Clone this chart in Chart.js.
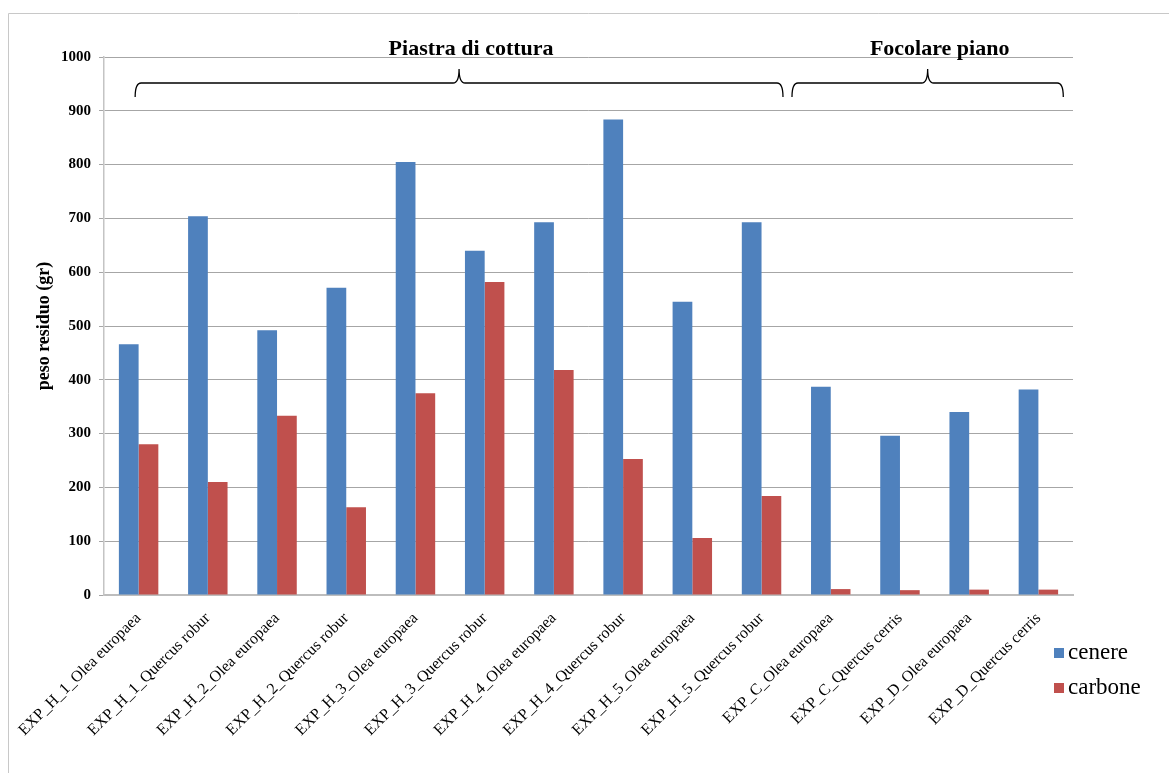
<!DOCTYPE html>
<html>
<head>
<meta charset="utf-8">
<script src="https://cdn.jsdelivr.net/npm/chart.js@4.4.1/dist/chart.umd.min.js"></script>
<style>
  html, body { margin: 0; padding: 0; background: #fff; }
  #wrap { position: relative; width: 1169px; height: 773px; }
</style>
</head>
<body>
<div id="wrap"><canvas id="chart" width="1169" height="773"></canvas></div>
<script>
// Residual weight per experiment: ash (cenere) and charcoal (carbone)
const categories = [
  'EXP_H_1_Olea europaea', 'EXP_H_1_Quercus robur',
  'EXP_H_2_Olea europaea', 'EXP_H_2_Quercus robur',
  'EXP_H_3_Olea europaea', 'EXP_H_3_Quercus robur',
  'EXP_H_4_Olea europaea', 'EXP_H_4_Quercus robur',
  'EXP_H_5_Olea europaea', 'EXP_H_5_Quercus robur',
  'EXP_C_Olea europaea', 'EXP_C_Quercus cerris',
  'EXP_D_Olea europaea', 'EXP_D_Quercus cerris'
];
const cenere  = [466, 704, 492, 571, 805, 640, 693, 884, 545, 693, 387, 296, 340, 382];
const carbone = [280, 210, 333, 163, 375, 582, 418, 253, 106, 184, 11, 9, 10, 10];
const seriesNames = ['cenere', 'carbone'];
const yMin = 0, yMax = 1000, yStep = 100;
const axisTitle = 'peso residuo (gr)';

// Hearth types grouping the experiments (first and last category index)
const groupTitles = ['Piastra di cottura', 'Focolare piano'];
const groupFirst = [0, 10];
const groupLast = [9, 13];

const SERIF = '"Liberation Serif", "Times New Roman", serif';
const colors = ['#4F81BD', '#C0504D'];

// Outer frame, group braces with their titles, and the legend
const decorations = {
  id: 'decorations',
  beforeDraw(chart) {
    const ctx = chart.ctx;
    ctx.save();
    ctx.fillStyle = '#fff';
    ctx.fillRect(0, 0, chart.width, chart.height);
    ctx.strokeStyle = '#c8c8c8';
    ctx.lineWidth = 1;
    ctx.beginPath();
    ctx.moveTo(8.5, chart.height);
    ctx.lineTo(8.5, 13.5);
    ctx.lineTo(chart.width, 13.5);
    ctx.stroke();
    ctx.restore();
  },
  afterDraw(chart) {
    const ctx = chart.ctx;
    const x = chart.scales.x;
    const cw = x.getPixelForValue(1) - x.getPixelForValue(0);
    const startPad = [-0.05, -0.56];
    const endPad = [0.31, 0.36];
    const yLine = 83, yEnd = 97, yTip = 69, r = 6;
    ctx.save();
    ctx.strokeStyle = '#000';
    ctx.lineWidth = 1.3;
    groupTitles.forEach((title, g) => {
      const x1 = x.getPixelForValue(groupFirst[g]) + startPad[g] * cw;
      const x2 = x.getPixelForValue(groupLast[g]) + endPad[g] * cw;
      const xm = (x1 + x2) / 2;
      ctx.beginPath();
      ctx.moveTo(x1, yEnd);
      ctx.quadraticCurveTo(x1, yLine, x1 + r, yLine);
      ctx.lineTo(xm - r, yLine);
      ctx.quadraticCurveTo(xm, yLine, xm, yTip);
      ctx.quadraticCurveTo(xm, yLine, xm + r, yLine);
      ctx.lineTo(x2 - r, yLine);
      ctx.quadraticCurveTo(x2, yLine, x2, yEnd);
      ctx.stroke();
      ctx.fillStyle = '#000';
      ctx.font = 'bold 22px ' + SERIF;
      ctx.textAlign = 'center';
      ctx.textBaseline = 'alphabetic';
      ctx.fillText(title, xm + 12, 55);
    });
    // legend
    ctx.font = '23px ' + SERIF;
    ctx.textAlign = 'left';
    ctx.textBaseline = 'middle';
    chart.data.datasets.forEach((ds, i) => {
      const yc = 653 + i * 35;
      ctx.fillStyle = ds.backgroundColor;
      ctx.fillRect(1054, yc - 5, 10, 10);
      ctx.fillStyle = '#000';
      ctx.fillText(ds.label, 1068, yc);
    });
    ctx.restore();
  }
};

new Chart(document.getElementById('chart'), {
  type: 'bar',
  data: {
    labels: categories,
    datasets: [
      { label: seriesNames[0], data: cenere, backgroundColor: colors[0] },
      { label: seriesNames[1], data: carbone, backgroundColor: colors[1] }
    ]
  },
  options: {
    responsive: false,
    animation: false,
    devicePixelRatio: 1,
    layout: { padding: { top: 57, right: 96, left: 0, bottom: 0 } },
    datasets: {
      bar: { categoryPercentage: 0.57, barPercentage: 1.0, borderWidth: 0 }
    },
    plugins: {
      legend: { display: false },
      tooltip: { enabled: false }
    },
    scales: {
      x: {
        grid: { display: false },
        border: { display: true, color: '#bdbdbd', width: 2 },
        ticks: {
          color: '#000',
          font: { family: SERIF, size: 16 },
          minRotation: 45,
          maxRotation: 45,
          autoSkip: false,
          padding: 6
        },
        afterFit(scale) { scale.height = 773 - 595; }
      },
      y: {
        min: yMin,
        max: yMax,
        grid: { color: '#a6a6a6', lineWidth: 1, tickLength: 5 },
        border: { display: true, color: '#c4c4c4', width: 1.5 },
        ticks: {
          stepSize: yStep,
          color: '#000',
          font: { family: SERIF, size: 15, weight: 'bold' },
          padding: 8,
          callback: (v) => String(v)
        },
        title: {
          display: true,
          text: axisTitle,
          color: '#000',
          font: { family: SERIF, size: 18, weight: 'bold' },
          padding: { top: 34, bottom: 0 }
        },
        afterFit(scale) { scale.width = 104; }
      }
    }
  },
  plugins: [decorations]
});
</script>
</body>
</html>
